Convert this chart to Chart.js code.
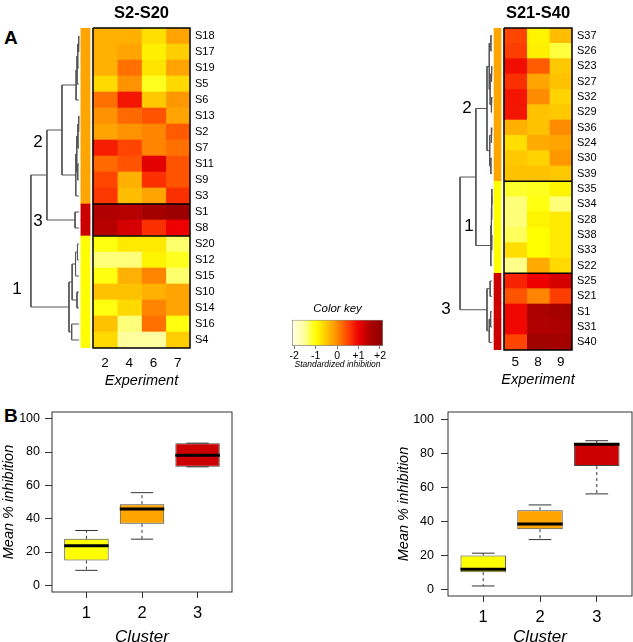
<!DOCTYPE html>
<html>
<head>
<meta charset="utf-8">
<script src="https://cdn.jsdelivr.net/npm/chart.js@4/dist/chart.umd.min.js"></script>
<style>
  html, body { margin: 0; padding: 0; background: #fff; }
  body { width: 633px; height: 642px; position: relative; overflow: hidden; font-family: "Liberation Sans", Arial, sans-serif; }
  .panel { position: absolute; }
  .tag { position: absolute; font-weight: bold; font-size: 19px; line-height: 22px; color: #000; }
</style>
</head>
<body>
<div class="tag" style="left:4px; top:27px;">A</div>
<div class="tag" style="left:4px; top:405px;">B</div>
<div class="panel" style="left:0; top:0; width:220px; height:392px;"><canvas id="heat-left"></canvas></div>
<div class="panel" style="left:420px; top:0; width:184px; height:394px;"><canvas id="heat-right"></canvas></div>
<div class="panel" style="left:262px; top:298px; width:150px; height:72px;"><canvas id="color-key"></canvas></div>
<div class="panel" style="left:0; top:395px; width:320px; height:252px;"><canvas id="box-left"></canvas></div>
<div class="panel" style="left:320px; top:395px; width:313px; height:252px;"><canvas id="box-right"></canvas></div>
<script>
const fontFamily = '"Liberation Sans", Arial, Helvetica, sans-serif';
Chart.defaults.font.family = fontFamily;
Chart.defaults.color = "#000";
Chart.defaults.animation = false;

// ---- heatmap S2-S20
const leftExperiments = ["2", "4", "6", "7"];
const leftSamples = ["S18", "S17", "S19", "S5", "S6", "S13", "S2", "S7", "S11", "S9", "S3",
    "S1", "S8", "S20", "S12", "S15", "S10", "S14", "S16", "S4"];
const leftClusters = [2, 2, 2, 2, 2, 2, 2, 2, 2, 2, 2, 3, 3, 1, 1, 1, 1, 1, 1, 1];
const leftValues = [
    [-0.3, -0.3, -0.7, -0.2],
    [-0.3, -0.2, -0.85, -0.55],
    [-0.3, 0.2, -0.75, -0.2],
    [-0.65, -0.05, -1.1, -0.65],
    [0.2, 0.85, -0.5, -0.1],
    [-0.05, 0.25, 0.4, -0.2],
    [-0.2, -0.05, 0.05, 0.35],
    [0.8, 0.5, 0.05, 0.2],
    [0.25, 0.4, 1.1, 0.4],
    [0.5, -0.3, 0.65, 0.4],
    [0.6, -0.4, -0.2, 0.65],
    [1.5, 1.45, 1.7, 1.85],
    [1.45, 1.2, 0.65, 1.0],
    [-1.05, -0.8, -0.8, -1.35],
    [-1.4, -1.4, -0.9, -1.1],
    [-1.05, -0.3, 0.05, -1.35],
    [-0.45, -0.45, -0.3, -0.2],
    [-1.05, -0.65, 0.05, -0.2],
    [-0.45, -1.4, 0.2, -1.05],
    [-0.65, -1.55, -1.55, -0.55]
];
// merge tree: [height, left, right], leaves are row numbers
const leftTree = [1.98,
    [1.32,
        [0.70,
            [0.12, [0.08, [0.05, [0.02, 0, 1], 2], 3], 4],
            [0.13, [0.09, [0.04, [0.02, 5, 6], 7], [0.05, 8, 9]], 10]
        ],
        [0.16, 11, 12]
    ],
    [0.41,
        [0.28, [0.14, [0.06, 13, 14], 15], [0.08, 16, 17]],
        [0.30, 18, 19]
    ]
];

// ---- heatmap S21-S40
const rightExperiments = ["5", "8", "9"];
const rightSamples = ["S37", "S26", "S23", "S27", "S32", "S29", "S36", "S24", "S30", "S39",
    "S35", "S34", "S28", "S38", "S33", "S22", "S25", "S21", "S1", "S31", "S40"];
const rightClusters = [2, 2, 2, 2, 2, 2, 2, 2, 2, 2, 1, 1, 1, 1, 1, 1, 3, 3, 3, 3, 3];
const rightValues = [
    [0.5, -0.9, -0.4],
    [0.55, -0.85, -1.2],
    [0.9, 0.35, -0.5],
    [0.65, -0.2, -0.45],
    [0.85, 0.0, -0.6],
    [0.85, -0.45, -0.5],
    [-0.3, -0.45, 0.0],
    [-0.7, -0.25, -0.2],
    [-0.5, -0.6, -0.1],
    [-0.45, -0.45, -0.5],
    [-1.15, -1.1, -0.9],
    [-1.4, -1.05, -1.4],
    [-1.4, -0.9, -0.8],
    [-1.3, -1.0, -0.8],
    [-0.7, -1.0, -0.8],
    [-1.45, -0.25, -0.65],
    [0.75, 1.0, 1.2],
    [0.4, 0.05, 0.55],
    [0.95, 1.6, 1.7],
    [0.95, 1.5, 1.6],
    [0.5, 1.8, 1.7]
];
const rightTree = [1.41,
    [0.71,
        [0.22,
            [0.12, [0.05, 0, 1], [0.08, [0.03, 2, 3], [0.04, 4, 5]]],
            [0.10, [0.04, 6, 7], [0.05, 8, 9]]
        ],
        [0.05, [0.03, [0.02, [0.01, 10, 11], 12], [0.02, 13, 14]], 15]
    ],
    [0.22, [0.08, 16, 17], [0.12, [0.06, 18, 19], 20]]
];

const clusterColors = { 1: "#ffff00", 2: "#ffa500", 3: "#cc0000" };

// ---- colour key
const keyStopValues = [-2.1, -1.5, -1.0, -0.5, 0, 0.5, 1.0, 1.5, 2.14];
const keyStopColors = ["#ffffe8", "#ffff99", "#ffff00", "#ffc800", "#ff8c00", "#ff4500", "#ee0000", "#b00000", "#8b0000"];
const keyTicks = [-2, -1, 0, 1, 2];
const keyTickLabels = ["-2", "-1", "0", "+1", "+2"];
const keyRange = [-2.1, 2.14];

// ---- boxplots
const boxClusters = ["1", "2", "3"];
const boxTicks = [0, 20, 40, 60, 80, 100];
const boxColors = ["#ffff00", "#ffa500", "#cc0000"];
const leftBoxMin = [9.0, 27.7, 71.1];
const leftBoxQ1 = [14.9, 36.9, 71.1];
const leftBoxMedian = [23.7, 45.8, 78.1];
const leftBoxQ3 = [27.9, 48.7, 85.3];
const leftBoxMax = [32.9, 55.6, 85.3];
const rightBoxMin = [1.9, 29.2, 56.1];
const rightBoxQ1 = [10.0, 35.3, 72.5];
const rightBoxMedian = [11.8, 38.4, 85.3];
const rightBoxQ3 = [19.8, 46.5, 85.9];
const rightBoxMax = [21.2, 49.6, 87.4];

function hexToRgb(h) {
    return [1, 3, 5].map(i => parseInt(h.slice(i, i + 2), 16));
}

function heatColor(v) {
    const s = keyStopValues;
    if (v <= s[0]) return keyStopColors[0];
    for (let i = 0; i < s.length - 1; i++) {
        if (v <= s[i + 1]) {
            const t = (v - s[i]) / (s[i + 1] - s[i]);
            const a = hexToRgb(keyStopColors[i]);
            const b = hexToRgb(keyStopColors[i + 1]);
            const c = a.map((x, k) => Math.round(x + (b[k] - x) * t));
            return "rgb(" + c.join(",") + ")";
        }
    }
    return keyStopColors[keyStopColors.length - 1];
}

function layoutTree(tree, gap) {
    const links = [];
    const nodes = [];
    (function walk(node) {
        if (typeof node === "number") {
            return { x: -gap, y: node + 0.5, leaves: [node] };
        }
        const a = walk(node[1]);
        const b = walk(node[2]);
        const n = { x: -(gap + node[0]), y: (a.y + b.y) / 2, leaves: a.leaves.concat(b.leaves) };
        a.parentX = n.x;
        b.parentX = n.x;
        links.push({ x: a.x, y: a.y }, { x: n.x, y: a.y }, { x: n.x, y: b.y }, { x: b.x, y: b.y }, { x: null, y: null });
        nodes.push(n);
        return n;
    })(tree);
    return { links, nodes };
}

function drawHeatmap(canvasId, cfg) {
    const { title, experiments, samples, clusters, values, tree } = cfg;
    const nRows = samples.length;
    const nCols = experiments.length;
    const { links, nodes } = layoutTree(tree, cfg.leafGap);

    const cellSets = experiments.map((exp, c) => ({
        type: "bar",
        label: "Experiment " + exp,
        data: samples.map((s, r) => ({ x: [c, c + 1], y: r + 0.5 })),
        backgroundColor: samples.map((s, r) => heatColor(values[r][c])),
        borderWidth: 0,
        grouped: false,
        barPercentage: 1,
        categoryPercentage: 1,
        order: 2
    }));

    const sideSet = {
        type: "bar",
        label: "cluster",
        data: samples.map((s, r) => ({ x: cfg.sideBar, y: r + 0.5 })),
        backgroundColor: clusters.map(k => clusterColors[k]),
        borderWidth: 0,
        grouped: false,
        barPercentage: 1,
        categoryPercentage: 1,
        order: 2
    };

    // contiguous cluster groups get a black frame
    const groups = [];
    clusters.forEach((k, r) => {
        const g = groups[groups.length - 1];
        if (g && g.k === k) g.end = r + 1;
        else groups.push({ k, start: r, end: r + 1 });
    });
    const framePoints = [];
    groups.forEach(g => {
        framePoints.push({ x: 0, y: g.start }, { x: nCols, y: g.start }, { x: nCols, y: g.end },
            { x: 0, y: g.end }, { x: 0, y: g.start }, { x: null, y: null });
    });

    const treeSet = {
        type: "scatter", label: "tree", data: links, showLine: true,
        borderColor: "#555", borderWidth: 1, pointRadius: 0, order: 0
    };
    const frameSet = {
        type: "scatter", label: "frames", data: framePoints, showLine: true,
        borderColor: "#000", borderWidth: 1.5, pointRadius: 0, clip: false, order: 0
    };

    const clusterLabels = Object.keys(cfg.labelOffsets).map(k => {
        const rows = clusters.map((c, r) => c === +k ? r : -1).filter(r => r >= 0);
        const node = nodes.find(n => n.leaves.length === rows.length && n.leaves.every(r => clusters[r] === +k));
        return { text: k, node, off: cfg.labelOffsets[k] };
    });

    const heatText = {
        id: "heatText",
        afterDraw(chart) {
            const { ctx, chartArea, scales } = chart;
            const cx = scales.x.getPixelForValue(nCols / 2);
            ctx.save();
            ctx.fillStyle = "#000";
            ctx.textAlign = "center";
            ctx.textBaseline = "middle";
            ctx.font = "bold 16.5px " + fontFamily;
            ctx.fillText(title, cx, 13);
            ctx.font = "italic 14.5px " + fontFamily;
            ctx.fillText("Experiment", cx, chartArea.bottom + cfg.captionGap);
            ctx.font = "17px " + fontFamily;
            clusterLabels.forEach(l => {
                const x = scales.x.getPixelForValue(l.node.parentX) + l.off[0];
                const y = scales.y.getPixelForValue(l.node.y) + l.off[1];
                ctx.fillText(l.text, x, y);
            });
            ctx.restore();
        }
    };

    new Chart(document.getElementById(canvasId), {
        type: "bar",
        data: { datasets: [frameSet, treeSet, sideSet, ...cellSets] },
        options: {
            indexAxis: "y",
            responsive: true,
            maintainAspectRatio: false,
            layout: { padding: { left: 4, top: 28, right: 0, bottom: 0 } },
            plugins: { legend: { display: false }, tooltip: { enabled: false } },
            scales: {
                x: {
                    type: "linear",
                    min: cfg.xMin,
                    max: nCols,
                    offset: false,
                    grid: { display: false, drawTicks: false, offset: false },
                    border: { display: false },
                    afterBuildTicks: s => { s.ticks = experiments.map((e, c) => ({ value: c + 0.5 })); },
                    afterFit: s => { s.height = cfg.axisHeight; },
                    ticks: {
                        autoSkip: false, maxRotation: 0, padding: cfg.tickPad,
                        font: { size: 13.5 },
                        callback: (v, i) => experiments[i]
                    }
                },
                y: {
                    type: "linear",
                    position: "right",
                    reverse: true,
                    min: 0,
                    max: nRows,
                    offset: false,
                    grid: { display: false, drawTicks: false, offset: false },
                    border: { display: false },
                    afterBuildTicks: s => { s.ticks = samples.map((n, r) => ({ value: r + 0.5 })); },
                    afterFit: s => { s.width = cfg.labelWidth; },
                    ticks: {
                        autoSkip: false, padding: 5,
                        font: { size: 11 },
                        callback: (v, i) => samples[i]
                    }
                }
            }
        },
        plugins: [heatText]
    });
}

drawHeatmap("heat-left", {
    title: "S2-S20",
    experiments: leftExperiments,
    samples: leftSamples,
    clusters: leftClusters,
    values: leftValues,
    tree: leftTree,
    leafGap: 0.58,
    sideBar: [-0.5, -0.12],
    xMin: -3.67,
    labelWidth: 30,
    axisHeight: 44,
    tickPad: 7,
    captionGap: 33,
    labelOffsets: { 2: [-9, 12], 3: [-9, 1], 1: [-14, -18] }
});

drawHeatmap("heat-right", {
    title: "S21-S40",
    experiments: rightExperiments,
    samples: rightSamples,
    clusters: rightClusters,
    values: rightValues,
    tree: rightTree,
    leafGap: 0.53,
    sideBar: [-0.44, -0.13],
    xMin: -3.53,
    labelWidth: 32,
    axisHeight: 44,
    tickPad: 4,
    captionGap: 30,
    labelOffsets: { 2: [-9, 0], 1: [-7, -19], 3: [-14, 0] }
});

// ---- colour key
function keyGradient(context) {
    const chart = context.chart;
    if (!chart.chartArea) return keyStopColors[4];
    const sx = chart.scales.x;
    const x0 = sx.getPixelForValue(keyRange[0]);
    const x1 = sx.getPixelForValue(keyRange[1]);
    const g = chart.ctx.createLinearGradient(x0, 0, x1, 0);
    keyStopValues.forEach((v, i) => {
        g.addColorStop((v - keyRange[0]) / (keyRange[1] - keyRange[0]), keyStopColors[i]);
    });
    return g;
}

new Chart(document.getElementById("color-key"), {
    type: "bar",
    data: {
        labels: [""],
        datasets: [{
            data: [keyRange],
            backgroundColor: keyGradient,
            borderColor: "#888",
            borderWidth: 1,
            borderSkipped: false,
            barPercentage: 1,
            categoryPercentage: 1
        }]
    },
    options: {
        indexAxis: "y",
        responsive: true,
        maintainAspectRatio: false,
        layout: { padding: { left: 30, right: 29, top: 0, bottom: 0 } },
        plugins: {
            legend: { display: false },
            tooltip: { enabled: false },
            title: {
                display: true,
                text: "Color key",
                font: { size: 11.5, style: "italic", weight: "normal" },
                padding: { top: 4, bottom: 4 }
            }
        },
        scales: {
            y: { display: false },
            x: {
                type: "linear",
                min: keyRange[0],
                max: keyRange[1],
                grid: { drawOnChartArea: false, drawTicks: true, tickLength: 3, color: "#777" },
                border: { display: false },
                afterBuildTicks: s => { s.ticks = keyTicks.map(v => ({ value: v })); },
                afterFit: s => { s.height = 24; },
                ticks: {
                    autoSkip: false, maxRotation: 0, padding: 1,
                    font: { size: 10.5 },
                    callback: (v, i) => keyTickLabels[i]
                },
                title: {
                    display: true,
                    text: "Standardized inhibition",
                    font: { size: 8.5, style: "italic" },
                    padding: 0
                }
            }
        }
    }
});

// ---- boxplots
const boxWidth = 0.8;

const framePlugin = {
    id: "plotFrame",
    afterDraw(chart) {
        const { ctx, chartArea } = chart;
        ctx.save();
        ctx.strokeStyle = "#333";
        ctx.lineWidth = 1;
        ctx.strokeRect(chartArea.left, chartArea.top, chartArea.right - chartArea.left, chartArea.bottom - chartArea.top);
        ctx.restore();
    }
};

function drawBoxplot(canvasId, stats, cfg) {
    const { min, q1, median, q3, max } = stats;
    const half = boxWidth / 2;
    const capHalf = boxWidth / 4;
    const medianPts = [];
    const whiskerPts = [];
    const capPts = [];
    boxClusters.forEach((c, i) => {
        const x = i + 1;
        medianPts.push({ x: x - half, y: median[i] }, { x: x + half, y: median[i] }, { x: null, y: null });
        whiskerPts.push({ x, y: q3[i] }, { x, y: max[i] }, { x: null, y: null },
            { x, y: q1[i] }, { x, y: min[i] }, { x: null, y: null });
        capPts.push({ x: x - capHalf, y: max[i] }, { x: x + capHalf, y: max[i] }, { x: null, y: null },
            { x: x - capHalf, y: min[i] }, { x: x + capHalf, y: min[i] }, { x: null, y: null });
    });

    new Chart(document.getElementById(canvasId), {
        type: "bar",
        data: {
            datasets: [
                {
                    type: "scatter", label: "median", data: medianPts, showLine: true,
                    borderColor: "#000", borderWidth: 3, pointRadius: 0, order: 0
                },
                {
                    type: "scatter", label: "whiskers", data: whiskerPts, showLine: true,
                    borderColor: "#333", borderWidth: 1, borderDash: [3, 3], pointRadius: 0, order: 0
                },
                {
                    type: "scatter", label: "caps", data: capPts, showLine: true,
                    borderColor: "#333", borderWidth: 1, pointRadius: 0, order: 0
                },
                {
                    type: "bar", label: "box",
                    data: boxClusters.map((c, i) => ({ x: i + 1, y: [q1[i], q3[i]] })),
                    backgroundColor: boxColors,
                    borderColor: "#444",
                    borderWidth: 1,
                    borderSkipped: false,
                    barPercentage: boxWidth,
                    categoryPercentage: 1,
                    order: 1
                }
            ]
        },
        options: {
            responsive: true,
            maintainAspectRatio: false,
            layout: { padding: { left: cfg.padLeft, right: cfg.padRight, top: 17, bottom: 0 } },
            plugins: { legend: { display: false }, tooltip: { enabled: false } },
            scales: {
                x: {
                    type: "linear",
                    min: 0.38,
                    max: 3.62,
                    offset: false,
                    grid: { drawOnChartArea: false, drawTicks: true, tickLength: 6, color: "#333", offset: false },
                    border: { display: false },
                    afterBuildTicks: s => { s.ticks = boxClusters.map((c, i) => ({ value: i + 1 })); },
                    afterFit: s => { s.height = cfg.axisHeight; },
                    ticks: {
                        autoSkip: false, maxRotation: 0, padding: 6,
                        font: { size: 16.5 },
                        callback: (v, i) => boxClusters[i]
                    },
                    title: {
                        display: true, text: "Cluster", padding: 0,
                        font: { size: 17, style: "italic" }
                    }
                },
                y: {
                    type: "linear",
                    min: -4,
                    max: cfg.yMax,
                    grid: { drawOnChartArea: false, drawTicks: true, tickLength: 7, color: "#333" },
                    border: { display: false },
                    afterBuildTicks: s => { s.ticks = boxTicks.map(v => ({ value: v })); },
                    afterFit: s => { s.width = cfg.axisWidth; },
                    ticks: { padding: cfg.tickPad, font: { size: 12.5 } },
                    title: {
                        display: true, text: "Mean % inhibition", padding: 0,
                        font: { size: 14.5, style: "italic" }
                    }
                }
            }
        },
        plugins: [framePlugin]
    });
}

drawBoxplot("box-left",
    { min: leftBoxMin, q1: leftBoxQ1, median: leftBoxMedian, q3: leftBoxQ3, max: leftBoxMax },
    { padLeft: 0, padRight: 88, axisWidth: 52, axisHeight: 55, tickPad: 5, yMax: 104 });

drawBoxplot("box-right",
    { min: rightBoxMin, q1: rightBoxQ1, median: rightBoxMedian, q3: rightBoxQ3, max: rightBoxMax },
    { padLeft: 75, padRight: 1, axisWidth: 53, axisHeight: 51, tickPad: 7, yMax: 104.3 });
</script>
</body>
</html>
